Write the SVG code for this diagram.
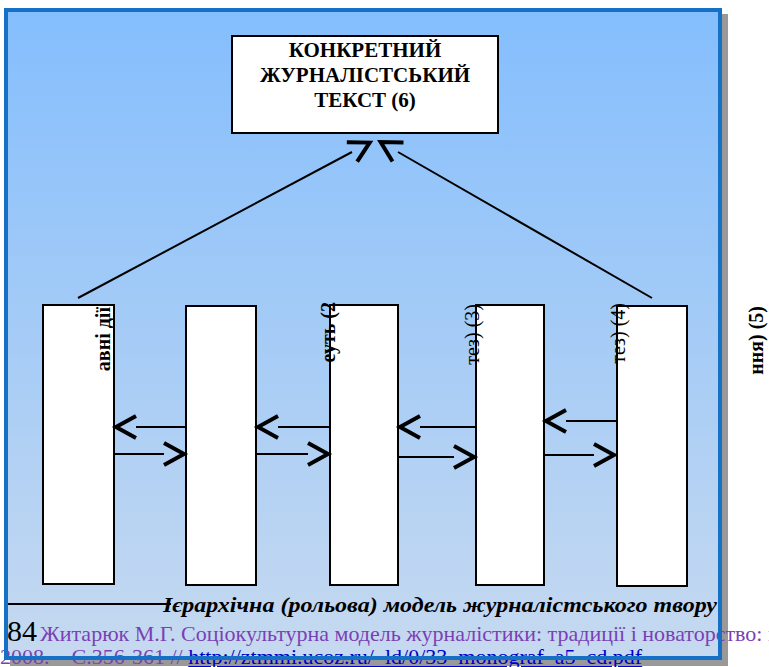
<svg xmlns="http://www.w3.org/2000/svg" width="769" height="667" viewBox="0 0 769 667">
  <defs>
    <linearGradient id="panelFill" x1="0" y1="0" x2="0" y2="1">
      <stop offset="0" stop-color="#84BEFD"/>
      <stop offset="1" stop-color="#C6D9F0"/>
    </linearGradient>
    <marker id="chevron" markerUnits="userSpaceOnUse" orient="auto" overflow="visible" markerWidth="24" markerHeight="24" refX="0" refY="0">
      <path d="M0,-11 L20,0 L0,11" fill="none" stroke="#000" stroke-width="4" stroke-linejoin="miter"/>
    </marker>
    <clipPath id="labelClip">
      <rect x="0" y="301" width="769" height="76"/>
    </clipPath>
    <style>
      .box { fill: #fff; stroke: #000; stroke-width: 2; }
      .link { fill: none; stroke: #000; stroke-width: 2; marker-end: url(#chevron); }
      .title { font-family: "Liberation Serif", "Times New Roman", serif; font-weight: bold; font-size: 21px; fill: #000; text-anchor: middle; }
      .vlabel { font-family: "Liberation Serif", "Times New Roman", serif; font-size: 20px; fill: #000; text-anchor: end; }
      .vbold { font-weight: bold; }
      .caption { font-family: "Liberation Serif", "Times New Roman", serif; font-weight: bold; font-style: italic; font-size: 21px; fill: #000; }
      .note { font-family: "Liberation Serif", "Times New Roman", serif; font-size: 22px; fill: #7B3FB5; }
      .url { fill: #0000CC; text-decoration: underline; }
    </style>
  </defs>

  <!-- background panel with drop shadow -->
  <rect x="10" y="14" width="718" height="652" fill="#999"/>
  <rect x="6" y="10" width="714" height="648" fill="url(#panelFill)"/>

  <!-- top node -->
  <g id="text6">
    <rect class="box" x="232" y="36" width="266" height="97"/>
    <text class="title" x="365" y="57">КОНКРЕТНИЙ</text>
    <text class="title" x="365" y="82">ЖУРНАЛІСТСЬКИЙ</text>
    <text class="title" x="365" y="107">ТЕКСТ (6)</text>
  </g>

  <!-- bottom row of role columns -->
  <g id="role1">
    <rect class="box" x="43" y="305" width="71" height="279"/>
  </g>
  <g id="role2">
    <rect class="box" x="186" y="306" width="70" height="279"/>
  </g>
  <g id="role3">
    <rect class="box" x="330" y="305" width="68" height="280"/>
  </g>
  <g id="role4">
    <rect class="box" x="476" y="305" width="68" height="280"/>
  </g>
  <g id="role5">
    <rect class="box" x="617" y="306" width="70" height="280"/>
  </g>

  <!-- vertical labels -->
  <g id="labels" clip-path="url(#labelClip)">
    <text class="vlabel vbold" transform="translate(110,307) rotate(-90)">авні дії</text>
    <text class="vlabel vbold" transform="translate(335,302) rotate(-90)">еуть (2</text>
    <text class="vlabel" transform="translate(479,304) rotate(-90)">тез) (3)</text>
    <text class="vlabel" transform="translate(625,303) rotate(-90)">тез) (4)</text>
    <text class="vlabel vbold" transform="translate(763,306) rotate(-90)">ння) (5)</text>
  </g>

  <!-- connectors -->
  <g id="connectors">
    <path class="link" d="M78,298 L352,152"/>
    <path class="link" d="M652,298 L398,152"/>

    <path class="link" d="M186,427 L136,427"/>
    <path class="link" d="M330,427 L278,427"/>
    <path class="link" d="M476,427 L420,427"/>
    <path class="link" d="M617,421 L566,421"/>

    <path class="link" d="M114,454 L164,454"/>
    <path class="link" d="M256,454 L308,454"/>
    <path class="link" d="M398,457 L454,457"/>
    <path class="link" d="M544,455 L594,455"/>
  </g>

  <!-- caption -->
  <line x1="5" y1="604" x2="171" y2="604" stroke="#000" stroke-width="2"/>
  <text class="caption" x="163" y="612" textLength="554" lengthAdjust="spacingAndGlyphs">Ієрархічна (рольова) модель журналістського твору</text>

  <!-- footnote -->
  <text x="7" y="641" font-family="Liberation Serif, Times New Roman, serif" font-size="30" fill="#000">84</text>
  <text class="note" x="40" y="641">Житарюк М.Г. Соціокультурна модель журналістики: традиції і новаторство: мо</text>
  <text class="note" x="0" y="664">2008. – С.356-361 // <tspan class="url">http://ztmmi.ucoz.ru/_ld/0/33_monograf_a5_cd.pdf</tspan></text>

  <!-- panel frame -->
  <rect x="6" y="10" width="714" height="648" fill="none" stroke="#1570C6" stroke-width="4"/>
</svg>
